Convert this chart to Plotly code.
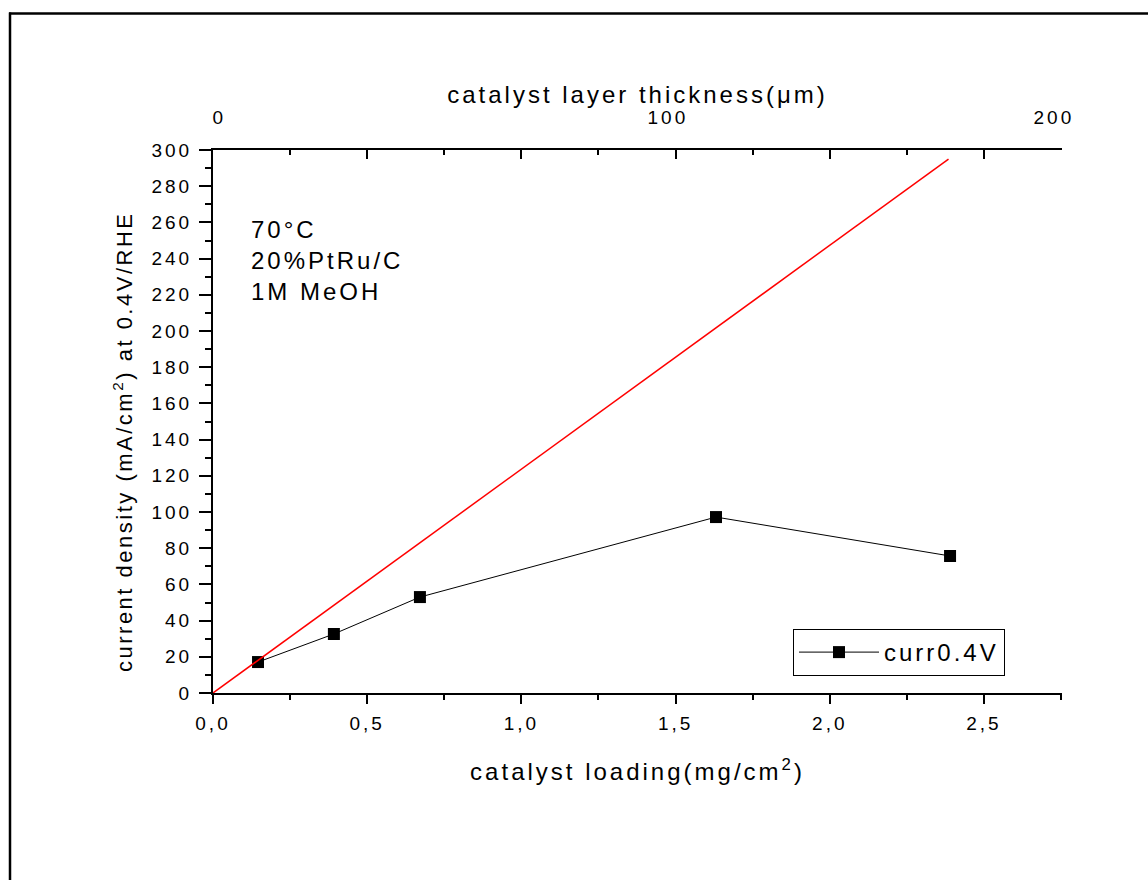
import plotly.graph_objects as go

# Measured current density at 0.4 V/RHE vs. catalyst loading
loading = [0.146, 0.392, 0.671, 1.631, 2.390]          # mg/cm2
current = [17.1, 32.6, 53.0, 97.2, 75.7]               # mA/cm2

# Linear (ideal utilisation) reference line
fit_loading = [0.0, 2.385]
fit_current = [0.0, 295.0]

# Secondary (top) scale: catalyst layer thickness labels, placed at loading positions
thickness_labels = ["0", "100", "200"]
thickness_at_loading = [0.02, 1.477, 2.727]

x_range = [0, 2.753]
y_range = [0, 300]

W, H = 1148, 880
L, R, T, B = 213, 86, 150, 187
PW, PH = W - L - R, H - T - B
FONT = "Liberation Sans, Arial, sans-serif"


def px(x):
    return (x - L) / PW


def py(y):
    return (H - B - y) / PH


fig = go.Figure()

fig.add_trace(go.Scatter(
    x=loading, y=current, mode="lines+markers", name="curr0.4V",
    line=dict(color="black", width=1),
    marker=dict(symbol="square", size=12, color="black"),
))
fig.add_trace(go.Scatter(
    x=fit_loading, y=fit_current, mode="lines", showlegend=False, xaxis="x2",
    line=dict(color="#ff0000", width=1.5), hoverinfo="skip",
))

axis_common = dict(showgrid=False, zeroline=False, linecolor="black", linewidth=2,
                   tickcolor="black", tickwidth=2)

annotations = [
    dict(text=lab, xref="x", yref="paper", x=pos, y=py(118),
         xanchor="center", yanchor="middle", showarrow=False, font=dict(size=19))
    for lab, pos in zip(thickness_labels, thickness_at_loading)
]
annotations += [
    dict(text="70°C<br>20%PtRu/C<br>1M MeOH", xref="paper", yref="paper",
         x=px(249), y=py(260), xanchor="left", yanchor="middle", align="left",
         showarrow=False, font=dict(size=24)),
    dict(text="current density (mA/cm<sup>2</sup>) at 0.4V/RHE", xref="paper", yref="paper",
         x=px(123), y=py(442), xanchor="center", yanchor="middle", textangle=-90,
         showarrow=False, font=dict(size=22)),
]
n_ann = len(annotations)

fig.update_layout(
    width=W, height=H,
    margin=dict(l=L, r=R, t=T, b=B, autoexpand=False),
    paper_bgcolor="white", plot_bgcolor="white",
    font=dict(family=FONT, color="black", size=19),
    separators=",.",
    showlegend=True,
    xaxis=dict(
        range=x_range, showline=True, ticks="outside", ticklen=9,
        tick0=0, dtick=0.5, tickformat=".1f", ticklabelstandoff=3,
        minor=dict(dtick=0.25, ticks="outside", ticklen=5, tickwidth=2, tickcolor="black"),
        tickfont=dict(size=19),
        title=dict(text="catalyst loading(mg/cm<sup>2</sup>)", font=dict(size=24), standoff=30),
        **axis_common,
    ),
    xaxis2=dict(
        range=x_range, overlaying="x", side="top", anchor="y", showline=True,
        showticklabels=False, ticks="inside", ticklen=9, tick0=0, dtick=0.5,
        minor=dict(dtick=0.25, ticks="inside", ticklen=5, tickwidth=2, tickcolor="black"),
        title=dict(text="catalyst layer thickness(μm)", font=dict(size=24), standoff=38),
        **axis_common,
    ),
    yaxis=dict(
        range=y_range, showline=True, ticks="outside", ticklen=12,
        tick0=0, dtick=20, ticklabelstandoff=3,
        minor=dict(dtick=10, ticks="outside", ticklen=6, tickwidth=2, tickcolor="black"),
        tickfont=dict(size=19),
        **axis_common,
    ),
    legend=dict(
        x=px(793), y=py(629), xanchor="left", yanchor="top",
        bgcolor="white", bordercolor="black", borderwidth=1,
        font=dict(size=24), itemwidth=80,
    ),
    annotations=annotations,
    shapes=[
        dict(type="line", xref="paper", yref="paper", x0=px(9), x1=px(1152),
             y0=py(13.5), y1=py(13.5), line=dict(color="black", width=2.5)),
        dict(type="line", xref="paper", yref="paper", x0=px(10), x1=px(10),
             y0=py(12.5), y1=py(884), line=dict(color="black", width=2.5)),
    ],
)

# Wider character spacing for all labels; legend and text boxes are
# re-measured afterwards so their boxes account for it.
spacing_css = (
    "svg text{letter-spacing:3px;}"
    "g.annotation[data-index='%d'] text{letter-spacing:2.5px;}" % (n_ann - 1)
)
post = (
    "var gd=document.getElementById('{plot_id}');"
    "var st=document.createElement('style');"
    "st.textContent=\"" + spacing_css + "\";"
    "document.head.appendChild(st);"
    "Plotly.relayout(gd,{'legend.font.size':24.01,"
    "'annotations[%d].font.size':24.01,'annotations[%d].font.size':22.01});"
    % (n_ann - 2, n_ann - 1)
)

fig.write_html("out.html", post_script=post)
